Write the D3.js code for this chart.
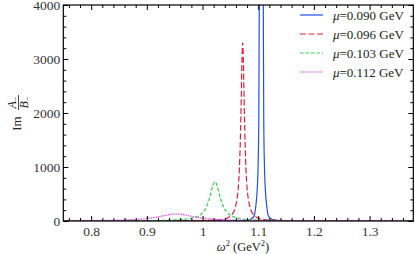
<!DOCTYPE html>
<html>
<head>
<meta charset="utf-8">
<script src="https://cdn.jsdelivr.net/npm/d3@7"></script>
<style>
  body { margin: 0; background: #fff; }
  svg { display: block; font-family: "Liberation Serif", "DejaVu Serif", serif; }
</style>
</head>
<body>
<svg id="chart" width="415" height="254"></svg>
<script>
// ---------- data ----------
const seriesLabels = ['0.090', '0.096', '0.103', '0.112'];

// mu = 0.090 GeV (peak runs off the top)
const w2Mu090 = [0.75, 0.85, 0.95, 1.00, 1.05, 1.07, 1.08, 1.0855, 1.092, 1.0955, 1.0983, 1.0995, 1.101, 1.1019, 1.1035, 1.1055,
  1.1075, 1.1091, 1.11, 1.1115, 1.1127, 1.1155, 1.119, 1.1255, 1.135, 1.15, 1.2, 1.3, 1.38];
const imMu090 = [1, 1, 2, 3, 5, 9, 14, 25, 80, 260, 600, 900, 1800, 4000, 7000, 9000,
  7000, 4000, 1800, 900, 600, 260, 80, 25, 12, 7, 3, 2, 1];

// mu = 0.096 GeV
const w2Mu096 = [0.75, 0.9, 0.9721, 1.0121, 1.0321, 1.0421, 1.0471, 1.0521, 1.0561, 1.0591, 1.0617, 1.0641, 1.0661, 1.0676, 1.0691, 1.0706, 1.0721,
  1.0736, 1.0751, 1.0766, 1.0781, 1.0801, 1.0825, 1.0851, 1.0881, 1.0921, 1.0971, 1.1021, 1.1121, 1.1321, 1.17, 1.25, 1.38];
const imMu096 = [1, 2, 5, 12, 25, 45, 70, 110, 170, 260, 390, 600, 940, 1380, 2030, 2870, 3300,
  2870, 2030, 1380, 940, 600, 390, 260, 170, 110, 70, 45, 25, 12, 6, 3, 1];

// mu = 0.103 GeV
const w2Mu103 = [0.75, 0.8, 0.8723, 0.9223, 0.9523, 0.9723, 0.9823, 0.9923, 0.9973, 1.0023, 1.0063, 1.0103, 1.0143, 1.0183, 1.0223,
  1.0263, 1.0303, 1.0343, 1.0383, 1.0423, 1.0473, 1.0523, 1.0623, 1.0723, 1.0923, 1.1223, 1.1723, 1.2723, 1.38];
const imMu103 = [1, 1.5, 4, 9.5, 19, 37, 56, 93, 127, 181, 248, 348, 490, 649, 728,
  649, 490, 348, 248, 181, 127, 93, 56, 37, 19, 9.5, 4, 1.5, 1];

// mu = 0.112 GeV
const w2Mu112 = [0.75, 0.803, 0.853, 0.883, 0.903, 0.913, 0.923, 0.933, 0.943, 0.953,
  0.963, 0.973, 0.983, 0.993, 1.003, 1.023, 1.053, 1.103, 1.153, 1.253, 1.38];
const imMu112 = [4, 7, 17, 31, 49, 63, 82, 103, 122, 130,
  122, 103, 82, 63, 49, 31, 17, 10, 8, 6, 5];

const xTicks = [0.8, 0.9, 1.0, 1.1, 1.2, 1.3];
const yTicks = [0, 1000, 2000, 3000, 4000];

// ---------- style ----------
const colors = ['#1f4fe8', '#e0203a', '#30d050', '#f040f0'];
const dashes = [null, '6,2.5', '3.5,2', '1.5,1'];

const margin = {top: 5, right: 1.7, bottom: 33, left: 63.3};
const svg = d3.select('#chart');
const width = 415 - margin.left - margin.right;
const height = 254 - margin.top - margin.bottom;

function translate(x, y) {
  return `translate(${x}, ${y})`;
}

const g = svg.append('g').attr('transform', translate(margin.left, margin.top));

const xScale = d3.scaleLinear().domain([0.75, 1.3785]).range([0, width]);
const yScale = d3.scaleLinear().domain([0, 4000]).range([height, 0]);

g.append('clipPath').attr('id', 'plotClip')
  .append('rect').attr('width', width).attr('height', height);

// curves
const series = [
  {w2: w2Mu090, im: imMu090},
  {w2: w2Mu096, im: imMu096},
  {w2: w2Mu103, im: imMu103},
  {w2: w2Mu112, im: imMu112}
].map((s, i) => ({
  label: seriesLabels[i],
  values: s.w2.map((w, j) => ({x: w, y: s.im[j]}))
}));

const line = d3.line()
  .x(d => xScale(d.x))
  .y(d => yScale(d.y))
  .curve(d3.curveMonotoneX);

g.append('g').attr('clip-path', 'url(#plotClip)')
  .selectAll('path')
  .data(series)
  .enter().append('path')
    .attr('d', s => line(s.values))
    .attr('fill', 'none')
    .attr('stroke', (s, i) => colors[i])
    .attr('stroke-width', 1.2)
    .attr('stroke-dasharray', (s, i) => dashes[i]);

// axes: ticks inside on all four sides
const xMinor = d3.range(0.76, 1.38, 0.02).filter(v => !xTicks.some(t => Math.abs(t - v) < 1e-6));
const yMinor = d3.range(200, 4000, 200).filter(v => v % 1000 !== 0);

g.append('g')
  .attr('transform', translate(0, height))
  .call(d3.axisBottom(xScale).tickValues(xTicks).tickSizeInner(-5).tickSizeOuter(0).tickPadding(5)
    .tickFormat(d3.format('~g')))
  .call(ax => ax.select('.domain').remove());
g.append('g')
  .attr('transform', translate(0, height))
  .call(d3.axisBottom(xScale).tickValues(xMinor).tickSize(-3).tickFormat(''))
  .call(ax => ax.select('.domain').remove());
g.append('g')
  .call(d3.axisTop(xScale).tickValues(xTicks).tickSize(-5).tickFormat(''))
  .call(ax => ax.select('.domain').remove());
g.append('g')
  .call(d3.axisTop(xScale).tickValues(xMinor).tickSize(-3).tickFormat(''))
  .call(ax => ax.select('.domain').remove());

g.append('g')
  .call(d3.axisLeft(yScale).tickValues(yTicks).tickSizeInner(-5).tickSizeOuter(0).tickPadding(3)
    .tickFormat(d3.format('d')))
  .call(ax => ax.select('.domain').remove());
g.append('g')
  .call(d3.axisLeft(yScale).tickValues(yMinor).tickSize(-3).tickFormat(''))
  .call(ax => ax.select('.domain').remove());
g.append('g')
  .attr('transform', translate(width, 0))
  .call(d3.axisRight(yScale).tickValues(yTicks).tickSize(-5).tickFormat(''))
  .call(ax => ax.select('.domain').remove());
g.append('g')
  .attr('transform', translate(width, 0))
  .call(d3.axisRight(yScale).tickValues(yMinor).tickSize(-3).tickFormat(''))
  .call(ax => ax.select('.domain').remove());

g.selectAll('.tick text')
  .attr('font-family', '"Liberation Serif", serif')
  .attr('font-size', 13.5)
  .attr('fill', '#333');
g.selectAll('.tick line').attr('stroke', '#000');

// frame
g.append('rect')
  .attr('width', width).attr('height', height)
  .attr('fill', 'none').attr('stroke', '#000').attr('stroke-width', 1.2);

// x title
const xTitle = svg.append('text')
  .attr('x', 243).attr('y', 250.5)
  .attr('text-anchor', 'middle')
  .attr('font-size', 12.5)
  .attr('fill', '#222');
xTitle.append('tspan').attr('font-style', 'italic').text('ω');
xTitle.append('tspan').attr('font-size', 8.5).attr('dy', -4.5).text('2');
xTitle.append('tspan').attr('dy', 4.5).text(' (GeV');
xTitle.append('tspan').attr('font-size', 8.5).attr('dy', -4.5).text('2');
xTitle.append('tspan').attr('dy', 4.5).text(')');

// y title: Im A-/B- rotated
const yTitle = svg.append('g').attr('transform', 'rotate(-90)').attr('fill', '#222');
yTitle.append('text')
  .attr('x', -123.5).attr('y', 20.5)
  .attr('text-anchor', 'middle').attr('font-size', 13)
  .text('Im');
yTitle.append('line')
  .attr('x1', -110).attr('x2', -95).attr('y1', 18.5).attr('y2', 18.5)
  .attr('stroke', '#222').attr('stroke-width', 0.8);
const numer = yTitle.append('text')
  .attr('x', -102.5).attr('y', 15.5)
  .attr('text-anchor', 'middle').attr('font-size', 12);
numer.append('tspan').attr('font-style', 'italic').text('A');
numer.append('tspan').attr('font-size', 8).attr('dy', 2).text('−');
const denom = yTitle.append('text')
  .attr('x', -102.5).attr('y', 28)
  .attr('text-anchor', 'middle').attr('font-size', 12);
denom.append('tspan').attr('font-style', 'italic').text('B');
denom.append('tspan').attr('font-size', 8).attr('dy', 2).text('−');

// legend
const legend = svg.append('g').selectAll('g')
  .data(series)
  .enter().append('g')
    .attr('transform', (s, i) => translate(300, 15 + i * 19));
legend.append('line')
  .attr('x1', 0).attr('x2', 23)
  .attr('stroke', (s, i) => colors[i])
  .attr('stroke-width', 1.2)
  .attr('stroke-dasharray', (s, i) => dashes[i]);
const legendText = legend.append('text')
  .attr('x', 33).attr('y', 4.5)
  .attr('font-size', 13)
  .attr('fill', '#222');
legendText.append('tspan').attr('font-style', 'italic').text('μ');
legendText.append('tspan').text(s => `=${s.label} GeV`);
</script>
</body>
</html>
